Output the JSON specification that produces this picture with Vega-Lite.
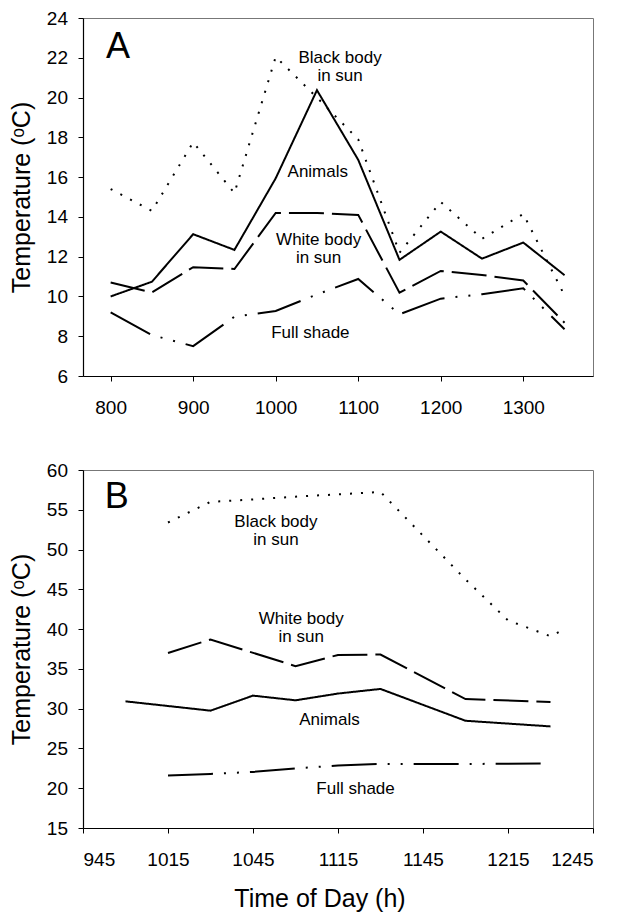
{
  "$schema": "https://vega.github.io/schema/vega-lite/v6.json",
  "padding": {"left": 9, "top": 8, "right": 5, "bottom": 0},
  "background": "white",
  "spacing": 42,
  "config": {
    "font": "Liberation Sans",
    "view": {"stroke": "#777", "strokeWidth": 1},
    "axis": {"grid": false, "domainColor": "black", "tickColor": "black", "labelColor": "black", "titleColor": "black", "labelFont": "Liberation Sans", "titleFont": "Liberation Sans", "labelFontSize": 19, "titleFontSize": 25, "titleFontWeight": "normal", "tickSize": 5, "domainWidth": 1.2, "tickWidth": 1, "labelOverlap": false},
    "axisY": {"labelOverlap": false},
    "axisQuantitative": {"labelOverlap": false}
  },
  "datasets": {
    "tempA": [
      {"time": 800, "series": "Animals", "temp": 10.0},
      {"time": 850, "series": "Animals", "temp": 10.74},
      {"time": 900, "series": "Animals", "temp": 13.13},
      {"time": 950, "series": "Animals", "temp": 12.34},
      {"time": 1000, "series": "Animals", "temp": 15.94},
      {"time": 1050, "series": "Animals", "temp": 20.37},
      {"time": 1100, "series": "Animals", "temp": 16.87},
      {"time": 1150, "series": "Animals", "temp": 11.84},
      {"time": 1200, "series": "Animals", "temp": 13.26},
      {"time": 1250, "series": "Animals", "temp": 11.9},
      {"time": 1300, "series": "Animals", "temp": 12.71},
      {"time": 1350, "series": "Animals", "temp": 11.07},
      {"time": 800, "series": "White body in sun", "temp": 10.7},
      {"time": 850, "series": "White body in sun", "temp": 10.2},
      {"time": 900, "series": "White body in sun", "temp": 11.47},
      {"time": 950, "series": "White body in sun", "temp": 11.38},
      {"time": 1000, "series": "White body in sun", "temp": 14.2},
      {"time": 1050, "series": "White body in sun", "temp": 14.2},
      {"time": 1100, "series": "White body in sun", "temp": 14.1},
      {"time": 1150, "series": "White body in sun", "temp": 10.19},
      {"time": 1200, "series": "White body in sun", "temp": 11.28},
      {"time": 1250, "series": "White body in sun", "temp": 11.08},
      {"time": 1300, "series": "White body in sun", "temp": 10.8},
      {"time": 1350, "series": "White body in sun", "temp": 8.68},
      {"time": 800, "series": "Full shade", "temp": 9.2},
      {"time": 850, "series": "Full shade", "temp": 8.06},
      {"time": 900, "series": "Full shade", "temp": 7.5},
      {"time": 950, "series": "Full shade", "temp": 8.98},
      {"time": 1000, "series": "Full shade", "temp": 9.27},
      {"time": 1050, "series": "Full shade", "temp": 10.1},
      {"time": 1100, "series": "Full shade", "temp": 10.88},
      {"time": 1150, "series": "Full shade", "temp": 9.1},
      {"time": 1200, "series": "Full shade", "temp": 9.89},
      {"time": 1250, "series": "Full shade", "temp": 10.11},
      {"time": 1300, "series": "Full shade", "temp": 10.41},
      {"time": 1350, "series": "Full shade", "temp": 8.35},
      {"time": 800, "series": "Black body in sun", "temp": 15.4},
      {"time": 850, "series": "Black body in sun", "temp": 14.3},
      {"time": 900, "series": "Black body in sun", "temp": 17.75},
      {"time": 950, "series": "Black body in sun", "temp": 15.2},
      {"time": 1000, "series": "Black body in sun", "temp": 22.05},
      {"time": 1050, "series": "Black body in sun", "temp": 20.0},
      {"time": 1100, "series": "Black body in sun", "temp": 17.9},
      {"time": 1150, "series": "Black body in sun", "temp": 12.2},
      {"time": 1200, "series": "Black body in sun", "temp": 14.75},
      {"time": 1250, "series": "Black body in sun", "temp": 12.9},
      {"time": 1300, "series": "Black body in sun", "temp": 14.15},
      {"time": 1350, "series": "Black body in sun", "temp": 10.05}
    ],
    "labelsA": [
      {"time": 1078, "temp": 21.74, "text": "Black body\nin sun"},
      {"time": 1051, "temp": 16.03, "text": "Animals"},
      {"time": 1052, "temp": 12.59, "text": "White body\nin sun"},
      {"time": 1042, "temp": 7.89, "text": "Full shade"}
    ],
    "letterA": [{"time": 794.3, "temp": 22.0, "text": "A"}],
    "tempB": [
      {"minutes": 600, "series": "Animals", "temp": 30.92},
      {"minutes": 630, "series": "Animals", "temp": 29.75},
      {"minutes": 645, "series": "Animals", "temp": 31.64},
      {"minutes": 660, "series": "Animals", "temp": 31.05},
      {"minutes": 675, "series": "Animals", "temp": 31.9},
      {"minutes": 690, "series": "Animals", "temp": 32.48},
      {"minutes": 720, "series": "Animals", "temp": 28.48},
      {"minutes": 750, "series": "Animals", "temp": 27.77},
      {"minutes": 615, "series": "White body in sun", "temp": 37.0},
      {"minutes": 630, "series": "White body in sun", "temp": 38.7},
      {"minutes": 660, "series": "White body in sun", "temp": 35.35},
      {"minutes": 675, "series": "White body in sun", "temp": 36.75},
      {"minutes": 690, "series": "White body in sun", "temp": 36.8},
      {"minutes": 720, "series": "White body in sun", "temp": 31.2},
      {"minutes": 750, "series": "White body in sun", "temp": 30.85},
      {"minutes": 615, "series": "Full shade", "temp": 21.6},
      {"minutes": 630, "series": "Full shade", "temp": 21.8},
      {"minutes": 645, "series": "Full shade", "temp": 22.05},
      {"minutes": 660, "series": "Full shade", "temp": 22.5},
      {"minutes": 675, "series": "Full shade", "temp": 22.85},
      {"minutes": 690, "series": "Full shade", "temp": 23.05},
      {"minutes": 720, "series": "Full shade", "temp": 23.05},
      {"minutes": 750, "series": "Full shade", "temp": 23.1},
      {"minutes": 615, "series": "Black body in sun", "temp": 53.4},
      {"minutes": 630, "series": "Black body in sun", "temp": 56.0},
      {"minutes": 645, "series": "Black body in sun", "temp": 56.3},
      {"minutes": 660, "series": "Black body in sun", "temp": 56.65},
      {"minutes": 675, "series": "Black body in sun", "temp": 56.94},
      {"minutes": 690, "series": "Black body in sun", "temp": 57.24},
      {"minutes": 720, "series": "Black body in sun", "temp": 46.25},
      {"minutes": 735, "series": "Black body in sun", "temp": 41.1},
      {"minutes": 750, "series": "Black body in sun", "temp": 39.1},
      {"minutes": 755, "series": "Black body in sun", "temp": 40.0}
    ],
    "labelsB": [
      {"minutes": 653.1, "temp": 52.88, "text": "Black body\nin sun"},
      {"minutes": 662.0, "temp": 40.58, "text": "White body\nin sun"},
      {"minutes": 672.0, "temp": 28.0, "text": "Animals"},
      {"minutes": 681.2, "temp": 19.32, "text": "Full shade"}
    ],
    "letterB": [{"minutes": 592.7, "temp": 55.27, "text": "B"}]
  },
  "vconcat": [
    {
      "width": 510,
      "height": 358,
      "encoding": {
        "x": {"field": "time", "type": "quantitative", "scale": {"domain": [766.5, 1384.5], "nice": false, "zero": false}, "axis": {"values": [800, 900, 1000, 1100, 1200, 1300], "format": "d", "title": null, "labelPadding": 17, "labelOverlap": false}},
        "y": {"field": "temp", "type": "quantitative", "scale": {"domain": [6, 24], "nice": false, "zero": false}, "axis": {"values": [6, 8, 10, 12, 14, 16, 18, 20, 22, 24], "format": "d", "labelOverlap": false, "title": "Temperature (ᵒC)", "labelPadding": 10.5, "titleX": -53.3, "titleY": 179, "titleBaseline": "alphabetic", "titleAlign": "center"}}
      },
      "layer": [
        {
          "data": {"name": "tempA"},
          "mark": {"type": "line", "color": "black", "strokeWidth": 2, "strokeCap": "butt"},
          "encoding": {
            "strokeDash": {"field": "series", "type": "nominal", "scale": {"domain": ["Animals", "White body in sun", "Full shade", "Black body in sun"], "range": [[1, 0], [35, 8], [45, 11, 2, 11, 2, 11], [2, 9]]}, "legend": null}
          }
        },
        {
          "data": {"name": "labelsA"},
          "mark": {"type": "text", "fontSize": 17, "lineBreak": "\n", "lineHeight": 18, "baseline": "alphabetic", "align": "center", "color": "black"},
          "encoding": {"text": {"field": "text"}}
        },
        {
          "data": {"name": "letterA"},
          "mark": {"type": "text", "fontSize": 36, "baseline": "alphabetic", "align": "left", "color": "black"},
          "encoding": {"text": {"field": "text"}}
        }
      ]
    },
    {
      "width": 510,
      "height": 358,
      "encoding": {
        "x": {"field": "minutes", "type": "quantitative", "scale": {"domain": [585, 765], "nice": false, "zero": false}, "axis": {"values": [585, 615, 645, 675, 705, 735, 765], "labelOverlap": false, "labelExpr": "floor(datum.value / 60) * 100 + datum.value % 60", "title": "Time of Day (h)", "labelPadding": 17, "titleX": 236.5, "titleY": 78.4, "titleBaseline": "alphabetic", "titleAlign": "center"}},
        "y": {"field": "temp", "type": "quantitative", "scale": {"domain": [15, 60], "nice": false, "zero": false}, "axis": {"values": [15, 20, 25, 30, 35, 40, 45, 50, 55, 60], "format": "d", "labelOverlap": false, "title": "Temperature (ᵒC)", "labelPadding": 10.5, "titleX": -53.3, "titleY": 179, "titleBaseline": "alphabetic", "titleAlign": "center"}}
      },
      "layer": [
        {
          "data": {"name": "tempB"},
          "mark": {"type": "line", "color": "black", "strokeWidth": 2, "strokeCap": "butt"},
          "encoding": {
            "strokeDash": {"field": "series", "type": "nominal", "scale": {"domain": ["Animals", "White body in sun", "Full shade", "Black body in sun"], "range": [[1, 0], [35, 8], [45, 11, 2, 11, 2, 11], [2, 9]]}, "legend": null}
          }
        },
        {
          "data": {"name": "labelsB"},
          "mark": {"type": "text", "fontSize": 17, "lineBreak": "\n", "lineHeight": 18, "baseline": "alphabetic", "align": "center", "color": "black"},
          "encoding": {"text": {"field": "text"}}
        },
        {
          "data": {"name": "letterB"},
          "mark": {"type": "text", "fontSize": 36, "baseline": "alphabetic", "align": "left", "color": "black"},
          "encoding": {"text": {"field": "text"}}
        }
      ]
    }
  ]
}
